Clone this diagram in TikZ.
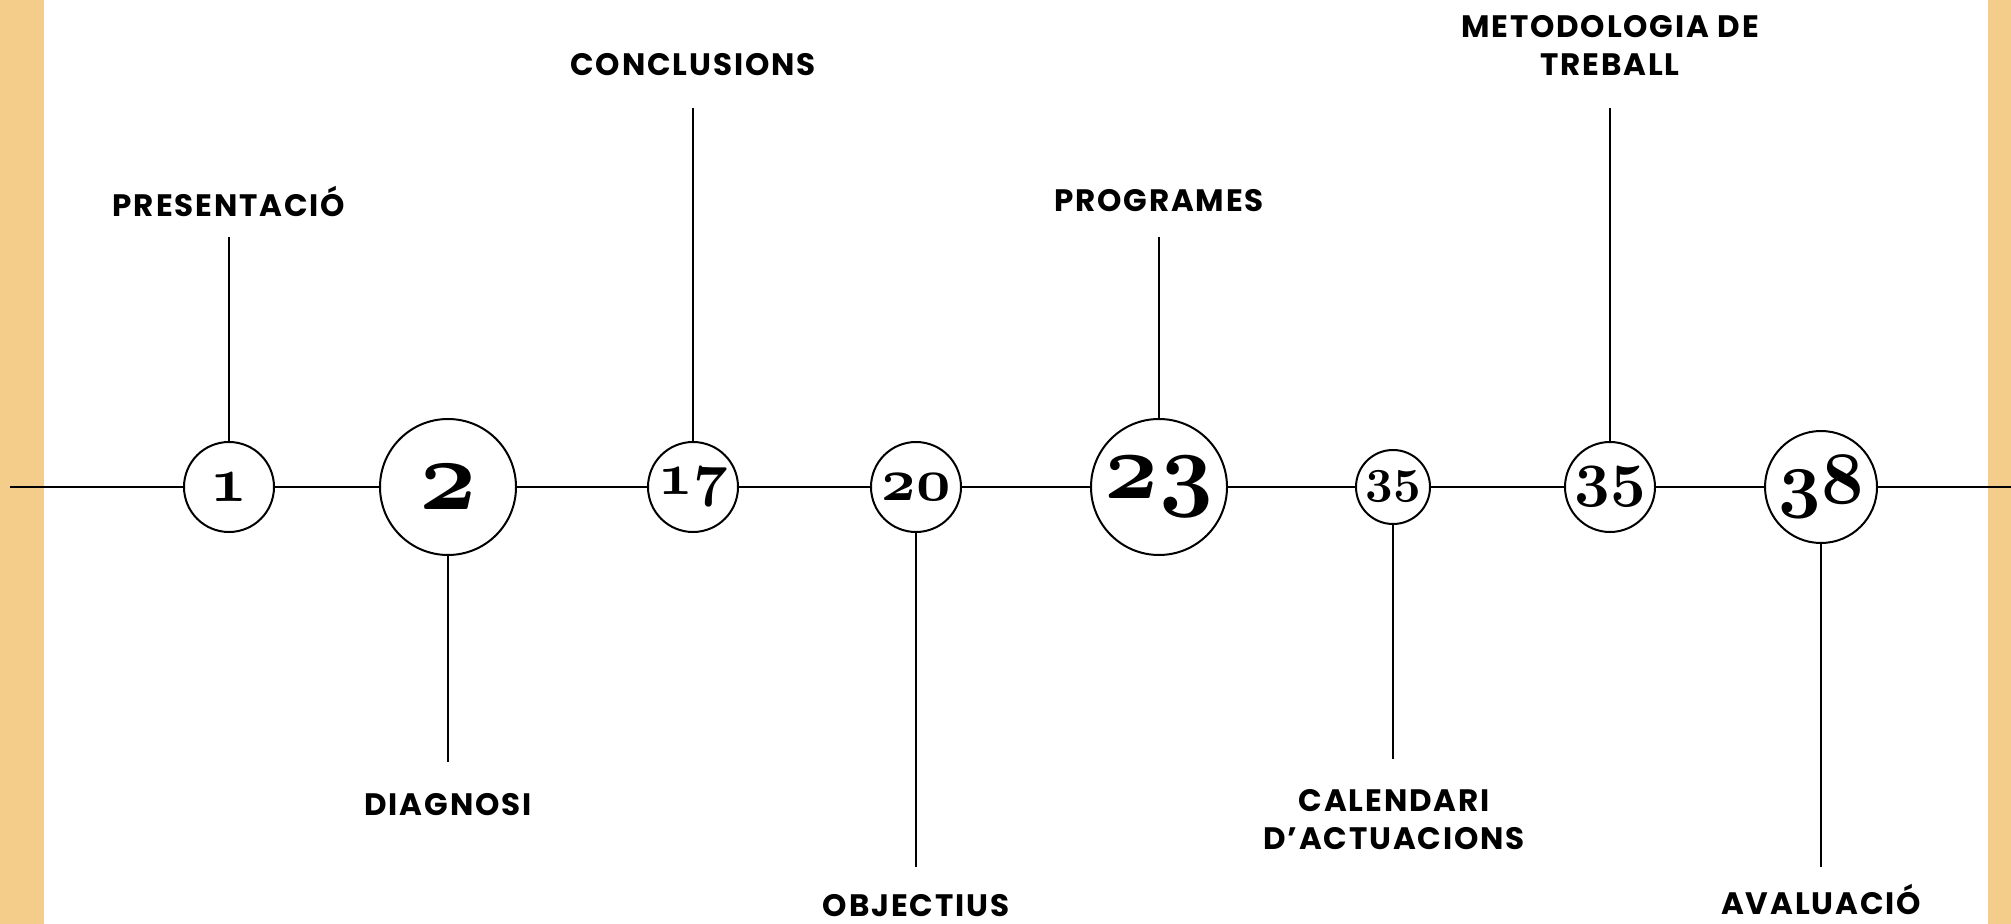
\documentclass[tikz,border=0pt]{standalone}
\usepackage{fontspec}
\setmainfont{Poppins}[LetterSpace=6]
\usepackage{tikz}

\definecolor{sand}{HTML}{F4CD8B}
% scalable bold old-style figures
\DeclareFontFamily{OML}{pgnum}{\skewchar\font'177}
\DeclareFontShape{OML}{pgnum}{b}{it}{<->cmmib10}{}
\newcommand{\numfont}[1]{\fontsize{#1}{#1}\usefont{OML}{pgnum}{b}{it}}

\tikzset{
  stop/.style={circle,draw,line width=1pt,fill=white,inner sep=0pt},
  topic/.style={font=\bfseries\fontsize{15.5}{19}\selectfont,align=center},
  link/.style={line width=1pt},
}

\begin{document}
\begin{tikzpicture}[x=0.5pt,y=-0.5pt]
\useasboundingbox (0,0) rectangle (2011,924);
% side bands
\fill[sand] (0,0) rectangle (44,924);
\fill[sand] (1988,0) rectangle (2011,924);

% page stops
\node[stop,minimum size=45pt,font=\numfont{32}] (p1) at (229,487) {1};
\node[stop,minimum size=68pt,font=\numfont{50}] (p2) at (448,487) {2};
\node[stop,minimum size=45pt,font=\numfont{30}] (p17) at (693,487) {17};
\node[stop,minimum size=45pt,font=\numfont{30}] (p20) at (916,487) {20};
\node[stop,minimum size=68pt,font=\numfont{47}] (p23) at (1159,487) {23};
\node[stop,minimum size=37pt,font=\numfont{24}] (p35a) at (1393,487) {35};
\node[stop,minimum size=45pt,font=\numfont{31}] (p35b) at (1610,487) {35};
\node[stop,minimum size=56pt,font=\numfont{37}] (p38) at (1821,487) {38};

% timeline
\coordinate (west) at (10,487);
\coordinate (east) at (2011,487);
\draw[link] (west) -- (p1) -- (p2) -- (p17) -- (p20) -- (p23) -- (p35a) -- (p35b) -- (p38) -- (east);

% labels above
\node[topic] (l1) at (229,201) {PRESENTACIÓ};
\node[topic] (l17) at (693,65) {CONCLUSIONS};
\node[topic] (l23) at (1159,201) {PROGRAMES};
\node[topic] (l35b) at (1610,45) {METODOLOGIA DE\\TREBALL};
% labels below
\node[topic] (l2) at (448,805) {DIAGNOSI};
\node[topic] (l20) at (916,906) {OBJECTIUS};
\node[topic] (l35a) at (1394,820) {CALENDARI\\D’ACTUACIONS};
\node[topic] (l38) at (1821,899) {AVALUACIÓ};

% stems
\coordinate (e1) at (229,237);
\coordinate (e17) at (693,108);
\coordinate (e23) at (1159,237);
\coordinate (e35b) at (1610,108);
\coordinate (e2) at (448,762);
\coordinate (e20) at (916,867);
\coordinate (e35a) at (1393,759);
\coordinate (e38) at (1821,867);
\draw[link] (p1) -- (e1);
\draw[link] (p17) -- (e17);
\draw[link] (p23) -- (e23);
\draw[link] (p35b) -- (e35b);
\draw[link] (p2) -- (e2);
\draw[link] (p20) -- (e20);
\draw[link] (p35a) -- (e35a);
\draw[link] (p38) -- (e38);
\end{tikzpicture}
\end{document}
